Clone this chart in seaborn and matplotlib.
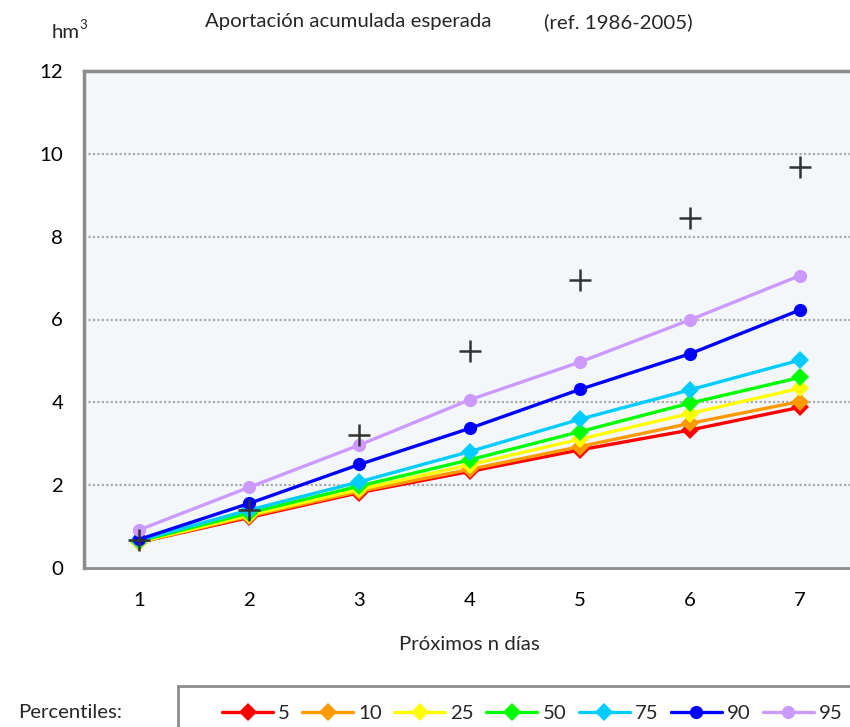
import matplotlib
matplotlib.use("Agg")
import matplotlib.pyplot as plt
from matplotlib.lines import Line2D
from matplotlib.patches import Rectangle
import seaborn as sns
import pandas as pd

# Días de horizonte y aportaciones acumuladas por percentil (hm3)
dias = [1, 2, 3, 4, 5, 6, 7]
percentiles = ["5", "10", "25", "50", "75", "90", "95"]
p05 = [0.62, 1.22, 1.82, 2.33, 2.85, 3.33, 3.88]
p10 = [0.62, 1.25, 1.85, 2.38, 2.93, 3.49, 4.02]
p25 = [0.63, 1.28, 1.90, 2.49, 3.11, 3.73, 4.34]
p50 = [0.65, 1.33, 1.98, 2.61, 3.29, 3.98, 4.60]
p75 = [0.67, 1.40, 2.08, 2.81, 3.59, 4.30, 5.02]
p90 = [0.69, 1.56, 2.50, 3.37, 4.31, 5.17, 6.23]
p95 = [0.92, 1.95, 2.97, 4.06, 4.97, 5.99, 7.06]
# Valores de referencia marcados con cruces
referencia = [0.68, 1.40, 3.21, 5.24, 6.95, 8.45, 9.68]
yticks = [0, 2, 4, 6, 8, 10, 12]

series = [p05, p10, p25, p50, p75, p90, p95]
colores = ["#FF0000", "#FF9900", "#FFFF00", "#00FF00", "#00CCFF", "#0000FF", "#CC99FF"]
marcadores = ["D", "D", "D", "D", "D", "o", "o"]

df = pd.DataFrame({
    "dia": dias * len(percentiles),
    "valor": [v for s in series for v in s],
    "percentil": [p for p in percentiles for _ in dias],
})
df_ref = pd.DataFrame({"dia": dias, "valor": referencia})

sns.set_theme(style="white")
plt.rcParams["font.family"] = ["Lato", "DejaVu Sans"]
FS = 14.7

fig = plt.figure(figsize=(8.5, 7.27), dpi=100)
ax = fig.add_axes([84 / 850, 1 - 568 / 727, (855 - 84) / 850, (568 - 71) / 727])
ax.set_facecolor("#F3F7FA")

for p, c, m in zip(percentiles, colores, marcadores):
    sub = df[df["percentil"] == p]
    ms = 9 if m == "D" else 9.5
    sns.lineplot(data=sub, x="dia", y="valor", ax=ax, color=c, marker=m,
                 markersize=ms, markeredgewidth=0, linewidth=2.4, legend=False,
                 zorder=3)

sns.scatterplot(data=df_ref, x="dia", y="valor", ax=ax, marker="+", s=260,
                color="#333333", linewidth=1.8, legend=False, zorder=4)

ax.set_xlim(0.5, 7.5)
ax.set_ylim(0, 12)
ax.set_xticks(dias)
ax.set_xticklabels([str(d) for d in dias])
ax.set_yticks(yticks)
ax.set_yticklabels([str(t) for t in yticks])
ax.tick_params(axis="both", length=0, labelsize=FS, colors="black")
ax.tick_params(axis="y", pad=15)
ax.tick_params(axis="x", pad=17)
ax.set_xlabel("Próximos n días", fontsize=FS, labelpad=20)
ax.set_ylabel("")

for y in yticks[1:-1]:
    ax.axhline(y, color="#AAAAAA", linestyle=(0, (1, 1)), linewidth=1.6, zorder=1)

for side in ["left", "top", "bottom"]:
    ax.spines[side].set_visible(True)
    ax.spines[side].set_color("#8C8C8C")
ax.spines["left"].set_linewidth(2.5)
ax.spines["top"].set_linewidth(2.5)
ax.spines["bottom"].set_linewidth(2.0)
ax.spines["right"].set_visible(False)

# Títulos
fig.text(52 / 850, 1 - 33 / 727, "hm", fontsize=FS, va="center", ha="left")
fig.text(79 / 850, 1 - 25 / 727, "3", fontsize=9.5, va="center", ha="left")
fig.text(348 / 850, 1 - 22 / 727, "Aportación acumulada esperada", fontsize=FS,
         va="center", ha="center")
fig.text(618 / 850, 1 - 22 / 727, "(ref. 1986-2005)", fontsize=FS,
         va="center", ha="center")

# Leyenda
fig.text(18 / 850, 1 - 713 / 727, "Percentiles:", fontsize=FS, va="center", ha="left")
fig.patches.append(Rectangle((178 / 850, -0.1), 0.9, 0.1 + (1 - 686 / 727),
                             transform=fig.transFigure, facecolor="white",
                             edgecolor="#8C8C8C", linewidth=2, zorder=0))
handles = [Line2D([], [], color=c, marker=m, markersize=9 if m == "D" else 9.5,
                  markeredgewidth=0, linewidth=2.4)
           for c, m in zip(colores, marcadores)]
fig.legend(handles, percentiles, loc="center left",
           bbox_to_anchor=(222 / 850, 1 - 713 / 727), ncol=7, frameon=False,
           fontsize=FS, handlelength=2.5, handletextpad=0.25, columnspacing=0.6,
           borderpad=0, borderaxespad=0)

fig.savefig("out.png", dpi=100)
